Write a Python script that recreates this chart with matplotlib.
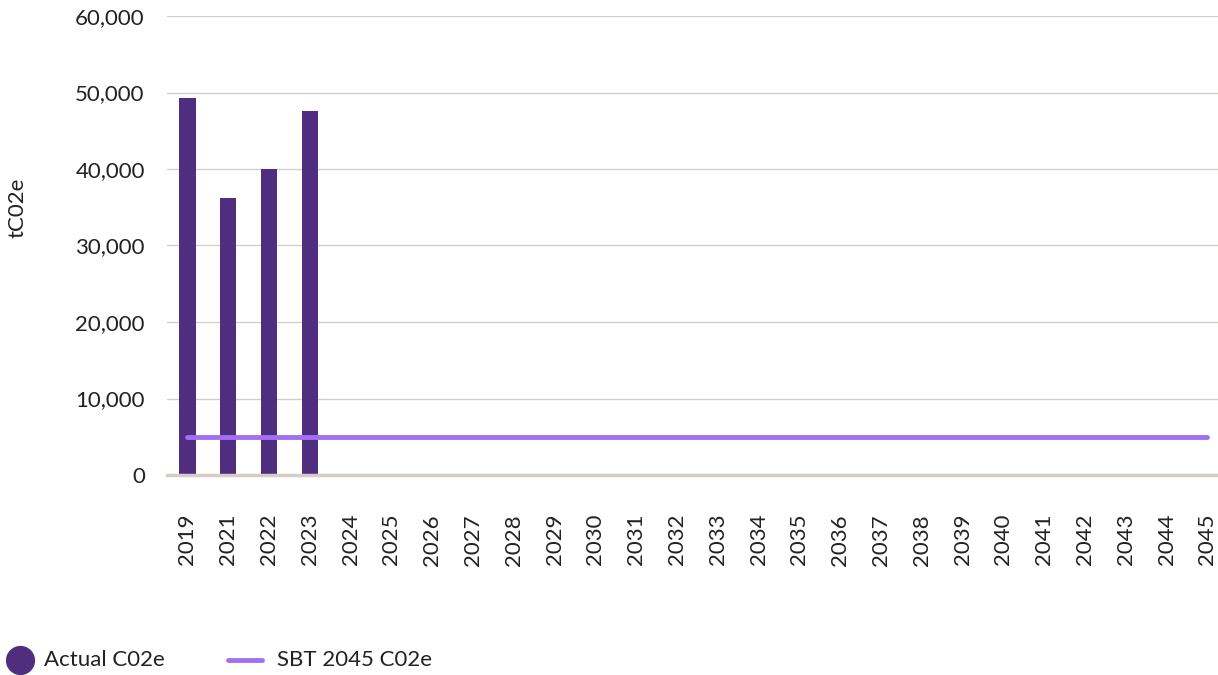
import numpy as np
import matplotlib
matplotlib.use("Agg")
import matplotlib.pyplot as plt
from matplotlib.lines import Line2D

plt.rcParams['font.family'] = ['Lato', 'DejaVu Sans']

# data
years = ['2019'] + [str(y) for y in range(2021, 2046)]
actual = [49300, 36200, 40000, 47600] + [0] * 22
sbt = [4950] * len(years)
legend_labels = ['Actual C02e', 'SBT 2045 C02e']

bar_col = '#4F2D7F'
line_col = '#A170F2'
grid_col = '#D6CDC8'
txt_col = '#222222'

W, H = 1218, 675
fig = plt.figure(figsize=(W / 100, H / 100), dpi=100)
ax = fig.add_axes([167 / W, 1 - 475 / H, 1051 / W, 459 / H])

x = np.arange(len(years))
ax.bar(x[:4], actual[:4], width=0.4, color=bar_col, zorder=2)
ax.plot(x, sbt, color=line_col, lw=3.5, solid_capstyle='round', zorder=3)

ax.set_ylim(0, 60000)
ax.set_xlim(-0.5, 25.26)
ax.set_yticks(np.arange(0, 60001, 10000))
ax.set_yticklabels([f'{v:,}' for v in range(0, 60001, 10000)], fontsize=16)
ax.set_xticks(x)
ax.set_xticklabels(years, rotation=90, fontsize=16)
ax.tick_params(axis='y', length=0, pad=16, colors=txt_col)
ax.tick_params(axis='x', length=0, pad=28, colors=txt_col)

ax.grid(axis='y', color=grid_col, lw=1, zorder=0)
for s in ['top', 'right', 'left']:
    ax.spines[s].set_visible(False)
ax.spines['bottom'].set_color(grid_col)
ax.spines['bottom'].set_linewidth(2.5)

fig.text(18 / W, 1 - 208 / H, 'tC02e', rotation=90, fontsize=16,
         va='center', ha='center', color=txt_col)

# legend drawn by hand along the bottom
ly = 1 - 660 / H
fig.add_artist(Line2D([20 / W], [ly], marker='o', ls='none', color=bar_col,
                      markersize=20, transform=fig.transFigure))
fig.text(44 / W, ly, legend_labels[0], fontsize=16, va='center', color=txt_col)
fig.add_artist(Line2D([228 / W, 262 / W], [ly, ly], color=line_col, lw=3.5,
                      solid_capstyle='round', transform=fig.transFigure))
fig.text(277 / W, ly, legend_labels[1], fontsize=16, va='center', color=txt_col)

fig.savefig('out.png', dpi=100)
